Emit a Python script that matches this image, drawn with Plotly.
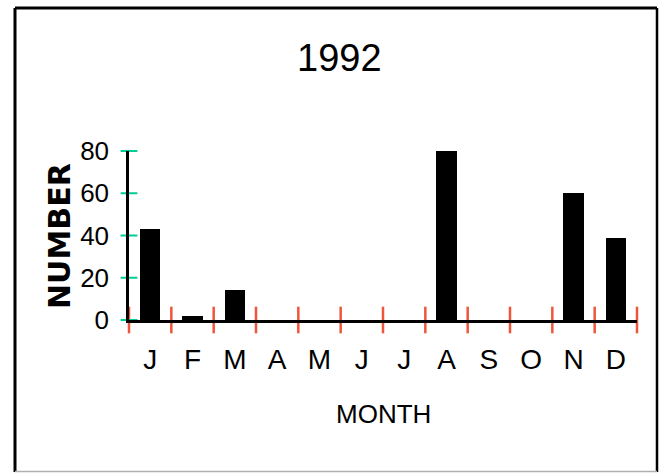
import plotly.graph_objects as go

# ---- data ----
month_labels = ["J", "F", "M", "A", "M", "J", "J", "A", "S", "O", "N", "D"]
month_index = list(range(12))
counts = [43, 2, 14, 0, 0, 0, 0, 80, 0, 0, 60, 39]
y_ticks = [0, 20, 40, 60, 80]
title_text = "1992"
x_title = "MONTH"
y_title = "NUMBER"

W, H = 663, 473
L, R, T, B = 129, 26, 151, 153
pw, ph = W - L - R, H - T - B

def px(x):
    return (x - L) / pw

def py(y):
    return (H - B - y) / ph

font_main = "Liberation Sans Narrow, Liberation Sans, Arial, sans-serif"
boundaries = [i - 0.5 for i in range(len(month_labels) + 1)]
xrange_ = [-0.5, len(month_labels) - 0.5]

fig = go.Figure()
fig.add_trace(go.Bar(
    x=month_index, y=counts, width=0.48,
    marker=dict(color="black", line=dict(width=0)),
    hoverinfo="x+y", showlegend=False,
))

# crossing tick marks drawn as line-shaped markers on the axes
fig.add_trace(go.Scatter(
    x=boundaries, y=[0] * len(boundaries), mode="markers",
    marker=dict(symbol="line-ns-open", size=19,
                line=dict(color="black", width=2.5)),
    cliponaxis=False, hoverinfo="skip", showlegend=False,
))
fig.add_trace(go.Scatter(
    x=[xrange_[0]] * len(y_ticks), y=y_ticks, mode="markers",
    marker=dict(symbol="line-ew-open", size=12,
                line=dict(color="black", width=2)),
    cliponaxis=False, hoverinfo="skip", showlegend=False,
))

axis_common = dict(showgrid=False, zeroline=False)

frame_shapes = [
    dict(type="line", xref="paper", yref="paper",
         x0=px(15), x1=px(15), y0=py(8), y1=py(472),
         line=dict(color="black", width=3)),
    dict(type="line", xref="paper", yref="paper",
         x0=px(15), x1=px(657), y0=py(8), y1=py(8),
         line=dict(color="black", width=3)),
    dict(type="line", xref="paper", yref="paper",
         x0=px(657), x1=px(657), y0=py(8), y1=py(472),
         line=dict(color="black", width=2.5)),
    dict(type="line", xref="paper", yref="paper",
         x0=px(15), x1=px(657), y0=py(471.5), y1=py(471.5),
         line=dict(color="#b0b0b0", width=1.5)),
]

fig.update_layout(
    width=W, height=H,
    margin=dict(l=L, r=R, t=T, b=B, pad=0),
    paper_bgcolor="white", plot_bgcolor="white",
    bargap=0,
    xaxis=dict(
        range=xrange_,
        tickmode="array", tickvals=month_index, ticktext=month_labels,
        ticks="", showline=True, linecolor="black", linewidth=2.5,
        tickfont=dict(family=font_main, size=28, color="black"),
        ticklabelstandoff=13,
        fixedrange=True, **axis_common,
    ),
    yaxis=dict(
        range=[0, 80],
        tickmode="array", tickvals=y_ticks,
        ticks="", showline=True, linecolor="black", linewidth=2.5,
        tickfont=dict(family=font_main, size=26, color="black"),
        ticklabelstandoff=12,
        fixedrange=True, **axis_common,
    ),
    annotations=[
        dict(text=title_text, xref="paper", yref="paper",
             x=px(339), y=py(58), xanchor="center", yanchor="middle",
             showarrow=False, font=dict(family=font_main, size=38, color="black")),
        dict(text=x_title, xref="paper", yref="paper",
             x=px(383), y=py(414), xanchor="center", yanchor="middle",
             showarrow=False, font=dict(family=font_main, size=26, color="black")),
        dict(text="<b>" + y_title + "</b>", xref="paper", yref="paper",
             x=px(59), y=py(236), xanchor="center", yanchor="middle",
             textangle=-90, showarrow=False,
             font=dict(family="DejaVu Sans", size=30, color="black")),
    ],
    shapes=frame_shapes,
)

fig.write_html(
    "out.html",
    config={"displayModeBar": False},
    post_script="document.body.style.margin='0';document.body.style.overflow='hidden';",
)
